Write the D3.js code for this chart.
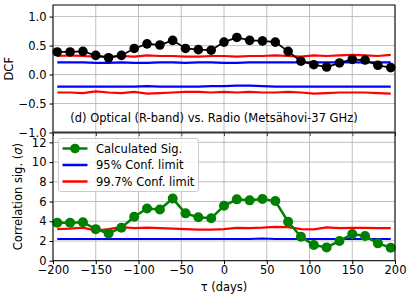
<!DOCTYPE html>
<html>
<head>
<meta charset="utf-8">
<script src="https://cdn.jsdelivr.net/npm/d3@7"></script>
<style>
  body { margin: 0; background: #fff; }
  text { font-family: "DejaVu Sans", sans-serif; }
</style>
</head>
<body>
<svg id="chart" width="407" height="300"></svg>
<script>
// lags (days)
const lags = [-195, -180, -165, -150, -135, -120, -105, -90, -75, -60, -45, -30, -15,
  0, 15, 30, 45, 60, 75, 90, 105, 120, 135, 150, 165, 180, 195]

// top panel: DCF and errors
const dcf = [0.39, 0.39, 0.40, 0.33, 0.29, 0.33, 0.45, 0.53, 0.51, 0.59, 0.45, 0.43, 0.42,
  0.56, 0.64, 0.59, 0.58, 0.56, 0.40, 0.23, 0.17, 0.13, 0.20, 0.26, 0.25, 0.16, 0.12]
const dcfErr = [0.04, 0.04, 0.04, 0.04, 0.04, 0.04, 0.05, 0.06, 0.05, 0.07, 0.04, 0.04, 0.04,
  0.06, 0.07, 0.07, 0.08, 0.07, 0.07, 0.04, 0.03, 0.03, 0.03, 0.03, 0.03, 0.03, 0.03]
const dcf95up = [0.21, 0.21, 0.21, 0.20, 0.20, 0.21, 0.20, 0.20, 0.21, 0.21, 0.20, 0.21, 0.21,
  0.20, 0.20, 0.21, 0.21, 0.21, 0.21, 0.21, 0.21, 0.21, 0.21, 0.21, 0.21, 0.21, 0.21]
const dcf95lo = [-0.21, -0.21, -0.21, -0.21, -0.21, -0.21, -0.21, -0.20, -0.21, -0.21, -0.21, -0.21, -0.20,
  -0.20, -0.19, -0.19, -0.20, -0.21, -0.21, -0.21, -0.21, -0.21, -0.21, -0.21, -0.21, -0.21, -0.21]
const dcf997up = [0.32, 0.33, 0.32, 0.31, 0.31, 0.32, 0.31, 0.33, 0.32, 0.32, 0.31, 0.31, 0.32,
  0.32, 0.31, 0.32, 0.32, 0.33, 0.32, 0.31, 0.33, 0.32, 0.33, 0.34, 0.33, 0.32, 0.34]
const dcf997lo = [-0.31, -0.31, -0.32, -0.29, -0.31, -0.32, -0.30, -0.33, -0.32, -0.31, -0.30, -0.30, -0.31,
  -0.30, -0.31, -0.30, -0.31, -0.31, -0.30, -0.31, -0.33, -0.32, -0.31, -0.31, -0.31, -0.32, -0.33]

// bottom panel: significance (sigma)
const sigma = [3.85, 3.85, 3.9, 3.2, 2.77, 3.35, 4.46, 5.3, 5.2, 6.3, 4.8, 4.4, 4.3,
  5.57, 6.22, 6.12, 6.25, 6.05, 3.95, 2.43, 1.59, 1.35, 2.0, 2.7, 2.5, 1.76, 1.32]
const sig95 = [2.2, 2.2, 2.2, 2.2, 2.2, 2.2, 2.2, 2.2, 2.2, 2.2, 2.2, 2.2, 2.2,
  2.2, 2.2, 2.2, 2.25, 2.2, 2.2, 2.2, 2.2, 2.2, 2.2, 2.2, 2.2, 2.2, 2.2]
const sig997 = [3.2, 3.25, 3.35, 3.05, 3.2, 3.4, 3.3, 3.35, 3.3, 3.25, 3.2, 3.15, 3.15,
  3.2, 3.33, 3.3, 3.35, 3.43, 3.4, 3.2, 3.17, 3.37, 3.3, 3.33, 3.33, 3.3, 3.3]

const xTicks = [-200, -150, -100, -50, 0, 50, 100, 150, 200]
const dcfTicks = [-1.0, -0.5, 0.0, 0.5, 1.0]
const sigTicks = [0, 2, 4, 6, 8, 10, 12]

const legendItems = [
  { label: "Calculated Sig.", color: "green", marker: true },
  { label: "95% Conf. limit", color: "blue", marker: false },
  { label: "99.7% Conf. limit", color: "red", marker: false }
]

const svg = d3.select("#chart")
const left = 53, right = 395
const topY0 = 5, topY1 = 132.5
const botY0 = 132.5, botY1 = 260.7

const x = d3.scaleLinear().domain([-200, 200]).range([left, right])
const yTop = d3.scaleLinear().domain([-1.0, 1.2]).range([topY1, topY0])
const yBot = d3.scaleLinear().domain([0, 13]).range([botY1, botY0])

const fmt = d => d < 0 ? "\u2212" + d3.format(".1f")(-d) : d3.format(".1f")(d)
const fmtInt = d => d < 0 ? "\u2212" + Math.abs(d) : String(d)

function panel(y, yt0, yt1, yTicks, yFormat, showX) {
  const g = svg.append("g")
  // grid
  g.append("g").selectAll("line").data(xTicks).join("line")
    .attr("x1", d => x(d)).attr("x2", d => x(d))
    .attr("y1", yt0).attr("y2", yt1)
    .attr("stroke", "#b0b0b0").attr("stroke-width", 0.8)
  g.append("g").selectAll("line").data(yTicks).join("line")
    .attr("x1", left).attr("x2", right)
    .attr("y1", d => y(d)).attr("y2", d => y(d))
    .attr("stroke", "#b0b0b0").attr("stroke-width", 0.8)

  const yAxis = g.append("g").attr("transform", `translate(${left},0)`)
    .call(d3.axisLeft(y).tickValues(yTicks).tickFormat(yFormat).tickSize(3.5).tickPadding(3))
  yAxis.select(".domain").remove()
  yAxis.selectAll("text").attr("font-size", 11.5).attr("fill", "#000")

  const xAxis = g.append("g").attr("transform", `translate(0,${yt1})`)
    .call(d3.axisBottom(x).tickValues(xTicks).tickFormat(showX ? fmtInt : "").tickSize(3.5).tickPadding(2))
  xAxis.select(".domain").remove()
  xAxis.selectAll("text").attr("font-size", 11.5).attr("fill", "#000")
  return g
}

const gTop = panel(yTop, topY0, topY1, dcfTicks, fmt, false)
const gBot = panel(yBot, botY0, botY1, sigTicks, fmtInt, true)

const line = (y, vals) => d3.line().x((d, i) => x(lags[i])).y(d => y(d))(vals)

// top panel lines
const topLines = [[dcf95up, "blue"], [dcf95lo, "blue"], [dcf997up, "red"], [dcf997lo, "red"]]
topLines.forEach(([vals, c]) => {
  gTop.append("path").attr("d", line(yTop, vals))
    .attr("fill", "none").attr("stroke", c).attr("stroke-width", 2.2)
})
gTop.append("path").attr("d", line(yTop, dcf))
  .attr("fill", "none").attr("stroke", "black").attr("stroke-width", 1.8)
gTop.append("g").selectAll("line").data(dcf).join("line")
  .attr("x1", (d, i) => x(lags[i])).attr("x2", (d, i) => x(lags[i]))
  .attr("y1", (d, i) => yTop(d - dcfErr[i])).attr("y2", (d, i) => yTop(d + dcfErr[i]))
  .attr("stroke", "black").attr("stroke-width", 2)
gTop.append("g").selectAll("circle").data(dcf).join("circle")
  .attr("cx", (d, i) => x(lags[i])).attr("cy", d => yTop(d))
  .attr("r", 4.8).attr("fill", "black")

gTop.append("text").attr("x", 214).attr("y", 122)
  .attr("text-anchor", "middle").attr("font-size", 11.5)
  .text("(d) Optical (R-band) vs. Radio (Metsähovi-37 GHz)")

// bottom panel lines
gBot.append("path").attr("d", line(yBot, sig95))
  .attr("fill", "none").attr("stroke", "blue").attr("stroke-width", 2.2)
gBot.append("path").attr("d", line(yBot, sig997))
  .attr("fill", "none").attr("stroke", "red").attr("stroke-width", 2.2)
gBot.append("path").attr("d", line(yBot, sigma))
  .attr("fill", "none").attr("stroke", "green").attr("stroke-width", 2.5)
gBot.append("g").selectAll("circle").data(sigma).join("circle")
  .attr("cx", (d, i) => x(lags[i])).attr("cy", d => yBot(d))
  .attr("r", 5).attr("fill", "green")

// spines
;[[topY0, topY1], [botY0, botY1]].forEach(([a, b]) => {
  svg.append("rect").attr("x", left).attr("y", a).attr("width", right - left).attr("height", b - a)
    .attr("fill", "none").attr("stroke", "#000").attr("stroke-width", 1)
})
svg.append("line").attr("x1", left).attr("x2", right).attr("y1", topY1).attr("y2", topY1)
  .attr("stroke", "#333").attr("stroke-width", 2.2)

// legend
const lg = svg.append("g").attr("transform", "translate(58.5,138.5)")
lg.append("rect").attr("width", 140).attr("height", 53).attr("rx", 2.5)
  .attr("fill", "white").attr("fill-opacity", 0.8).attr("stroke", "#ccc")
legendItems.forEach((d, i) => {
  const yy = 10 + i * 16.5
  lg.append("line").attr("x1", 4).attr("x2", 29).attr("y1", yy).attr("y2", yy)
    .attr("stroke", d.color).attr("stroke-width", 2.5)
  if (d.marker) lg.append("circle").attr("cx", 16.5).attr("cy", yy).attr("r", 4.8).attr("fill", d.color)
  lg.append("text").attr("x", 37.5).attr("y", yy + 4).attr("font-size", 11.5).text(d.label)
})

// axis labels
svg.append("text").attr("transform", `translate(13,${(topY0 + topY1) / 2}) rotate(-90)`)
  .attr("text-anchor", "middle").attr("font-size", 11.5).text("DCF")
const sigLabel = svg.append("text").attr("transform", `translate(22,${(botY0 + botY1) / 2}) rotate(-90)`)
  .attr("text-anchor", "middle").attr("font-size", 11.5)
sigLabel.append("tspan").text("Correlation sig. (")
sigLabel.append("tspan").attr("font-style", "italic").text("σ")
sigLabel.append("tspan").text(")")
svg.append("text").attr("x", (left + right) / 2).attr("y", 291)
  .attr("text-anchor", "middle").attr("font-size", 11.5).text("τ (days)")
</script>
</body>
</html>
